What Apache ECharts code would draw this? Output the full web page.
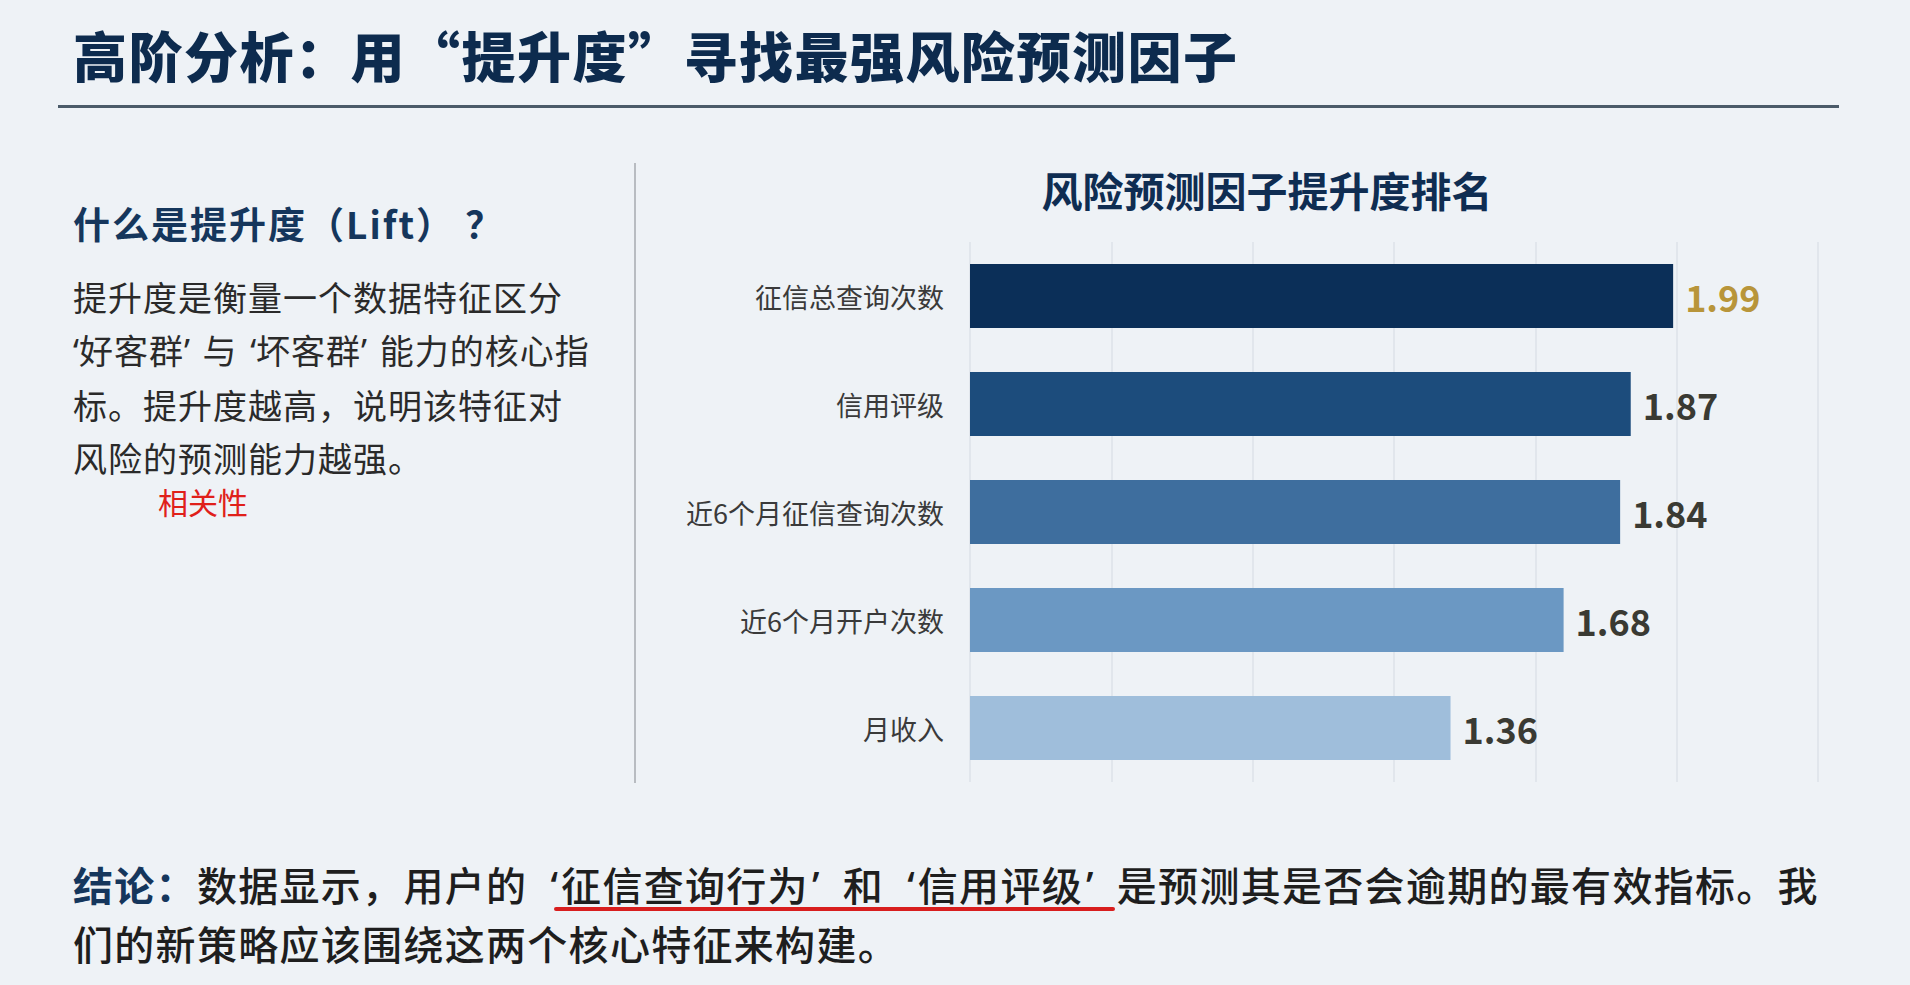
<!DOCTYPE html>
<html>
<head>
<meta charset="utf-8">
<script src="https://cdn.jsdelivr.net/npm/echarts@6/dist/echarts.min.js"></script>
<style>
  html, body { margin: 0; padding: 0; width: 1910px; height: 985px; overflow: hidden; background: #eef2f6; font-family: "Noto Sans CJK SC", "Noto Sans", sans-serif; }
  #chart { position: absolute; left: 0; top: 0; width: 1910px; height: 985px; }
  .abs { position: absolute; white-space: nowrap; }
  #title { left: 73px; top: 20px; font-size: 54px; font-weight: 900; color: #0d2b4e; letter-spacing: 1.5px; line-height: 70px; }
  #rule { left: 58px; top: 105px; width: 1781px; height: 3px; background: #4b5b69; }
  #divider { left: 634px; top: 163px; width: 2px; height: 620px; background: #b8bcc1; }
  #h2 { left: 73px; top: 199px; font-size: 37px; font-weight: 700; color: #15365c; line-height: 48px; letter-spacing: 2px; }
  #para { left: 73px; top: 270px; font-size: 34px; color: #2a2a2a; line-height: 53px; letter-spacing: 1px; word-spacing: 4px; }
  #note { left: 158px; top: 481px; font-size: 30px; color: #e0201a; line-height: 40px; }
  #concl { left: 73px; top: 855px; font-size: 40px; color: #1e1e1e; line-height: 59px; font-weight: 500; letter-spacing: 1.3px; word-spacing: 10px; }
  #concl b { color: #15365c; font-weight: 700; }
  .q { font-family: "Noto Sans", sans-serif; letter-spacing: 0; }
  #concl .q { padding: 0 3px; }
  .ul { position: relative; display: inline-block; height: 59px; line-height: 59px; vertical-align: top; }
  .ul::after { content: ''; position: absolute; left: 6px; right: 2px; top: 52px; height: 4px; border-radius: 2px; background: #d81e1e; }
</style>
</head>
<body>
<div id="chart"></div>
<div class="abs" id="title">高阶分析：用“提升度”寻找最强风险预测因子</div>
<div class="abs" id="rule"></div>
<div class="abs" id="divider"></div>
<div class="abs" id="h2">什么是提升度（Lift） ？</div>
<div class="abs" id="para">提升度是衡量一个数据特征区分<br><span class="q">‘</span>好客群<span class="q">’</span> 与 <span class="q">‘</span>坏客群<span class="q">’</span> 能力的核心指<br>标。提升度越高，说明该特征对<br>风险的预测能力越强。</div>
<div class="abs" id="note">相关性</div>
<div class="abs" id="concl"><b>结论：</b>数据显示，用户的 <span class="ul"><span class="q">‘</span>征信查询行为<span class="q">’</span> 和 <span class="q">‘</span>信用评级<span class="q">’</span>&nbsp;</span>是预测其是否会逾期的最有效指标。我<br>们的新策略应该围绕这两个核心特征来构建。</div>
<script>
const categories = ['征信总查询次数', '信用评级', '近6个月征信查询次数', '近6个月开户次数', '月收入'];
const liftValues = [1.99, 1.87, 1.84, 1.68, 1.36];
const barColors = ['#0b2f58', '#1c4c7c', '#3e6e9e', '#6b98c3', '#9fbedb'];
const labelColors = ['#b8953a', '#3a3a33', '#3a3a33', '#3a3a33', '#3a3a33'];
const chartTitle = '风险预测因子提升度排名';
const axisMax = 2.4;
const axisInterval = 0.4;

const chart = echarts.init(document.getElementById('chart'), null, { renderer: 'svg' });
chart.setOption({
  backgroundColor: 'transparent',
  animation: false,
  title: {
    text: chartTitle,
    left: 1262,
    textAlign: 'center',
    top: 163,
    textStyle: { fontSize: 41, fontWeight: 'bold', color: '#0f2d52', fontFamily: 'Noto Sans CJK SC' }
  },
  grid: { left: 970, right: 92, top: 242, bottom: 203, containLabel: false },
  xAxis: {
    type: 'value', min: 0, max: axisMax, interval: axisInterval,
    axisLabel: { show: false }, axisLine: { show: false }, axisTick: { show: false },
    splitLine: { show: true, lineStyle: { color: '#dde2e8', width: 1.5 } }
  },
  yAxis: {
    type: 'category', data: categories, inverse: true,
    axisLine: { show: false }, axisTick: { show: false },
    axisLabel: { fontSize: 27, color: '#3a3a3a', margin: 26, fontFamily: 'Noto Sans CJK SC' }
  },
  series: [{
    type: 'bar',
    barWidth: 64,
    data: liftValues.map((v, i) => ({
      value: v,
      itemStyle: { color: barColors[i] },
      label: { color: labelColors[i] }
    })),
    label: {
      show: true, position: 'right', distance: 12,
      fontSize: 36, fontWeight: 'bold', fontFamily: 'Noto Sans CJK SC',
      formatter: p => p.value.toFixed(2)
    }
  }]
});
</script>
</body>
</html>
